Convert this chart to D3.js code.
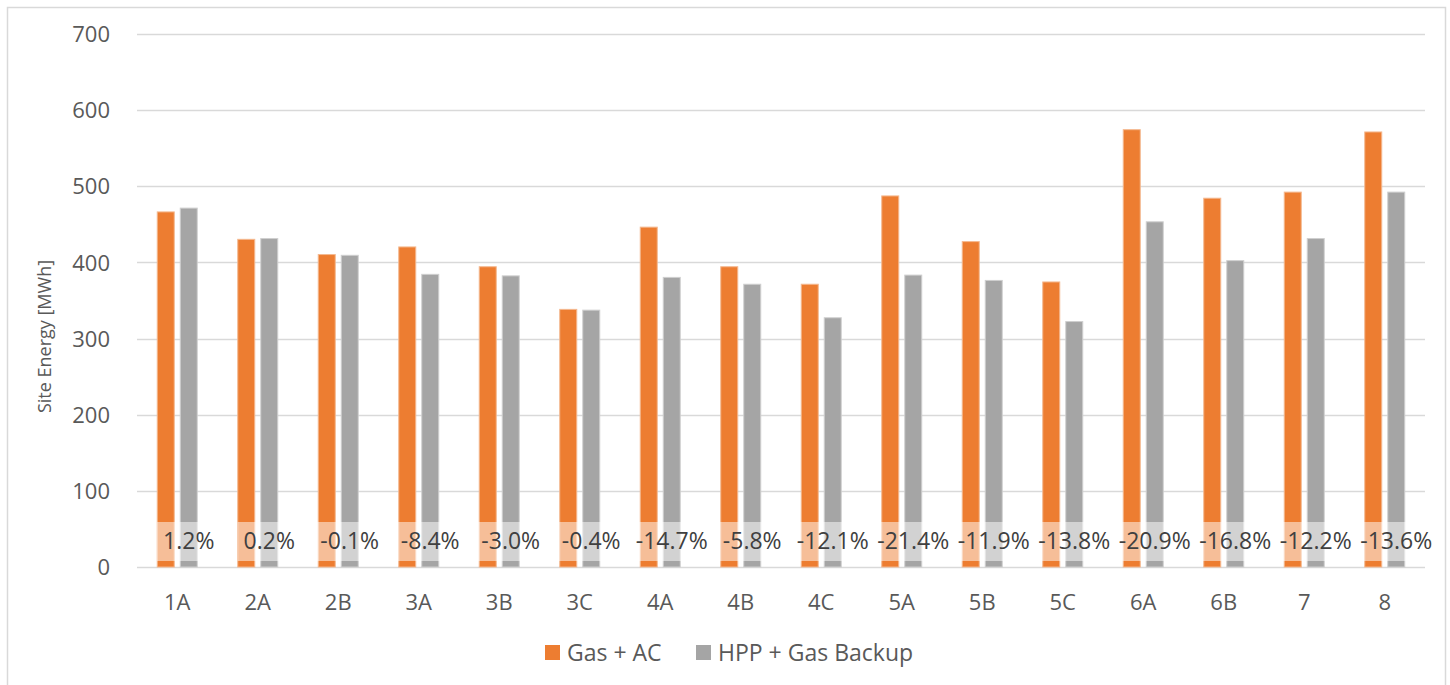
<!DOCTYPE html>
<html>
<head>
<meta charset="utf-8">
<script src="https://cdn.jsdelivr.net/npm/d3@7"></script>
<style>
  html, body { margin: 0; padding: 0; background: #fff; }
  svg { display: block; }
  text { font-family: "Open Sans", "Noto Sans", sans-serif; fill: #595959; }
</style>
</head>
<body>
<svg id="chart" width="1450" height="685"></svg>
<script>
const categories = ["1A","2A","2B","3A","3B","3C","4A","4B","4C","5A","5B","5C","6A","6B","7","8"];
const gasAC      = [467, 431, 411, 421, 395, 339, 447, 395, 372, 488, 428, 375, 575, 485, 493, 572];
const hppGas     = [472, 432, 410, 385, 383, 338, 381, 372, 328, 384, 377, 323, 454, 403, 432, 493];
const pctLabels  = ["1.2%","0.2%","-0.1%","-8.4%","-3.0%","-0.4%","-14.7%","-5.8%","-12.1%","-21.4%","-11.9%","-13.8%","-20.9%","-16.8%","-12.2%","-13.6%"];
const yTicks     = [0, 100, 200, 300, 400, 500, 600, 700];
const seriesNames = ["Gas + AC", "HPP + Gas Backup"];
const seriesColors = ["#ED7D31", "#A5A5A5"];
const seriesStroke = ["#F4B88F", "#CFCFCF"];

const svg = d3.select("#chart");

// chart border
svg.append("rect").attr("x", 7.5).attr("y", 7.5).attr("width", 1438).attr("height", 690)
  .attr("fill", "#fff").attr("stroke", "#D9D9D9").attr("stroke-width", 1.5);

const plot = { left: 137, right: 1425, top: 34, bottom: 567 };

const x = d3.scaleBand().domain(categories).range([plot.left, plot.right]).padding(0);
const y = d3.scaleLinear().domain([0, 700]).range([plot.bottom, plot.top]);

// gridlines
svg.append("g").selectAll("line").data(yTicks).join("line")
  .attr("x1", plot.left).attr("x2", plot.right)
  .attr("y1", d => Math.round(y(d)) + 0.5).attr("y2", d => Math.round(y(d)) + 0.5)
  .attr("stroke", "#D9D9D9").attr("stroke-width", 1.5);

// y axis labels
const yAxis = d3.axisLeft(y).tickValues(yTicks).tickSize(0).tickPadding(0);
const yg = svg.append("g").attr("transform", `translate(110,0)`).call(yAxis);
yg.select(".domain").remove();
yg.selectAll("text").style("font-size", "22px").style("fill", "#595959")
  .style("font-family", '"Open Sans", sans-serif').attr("dy", "0.35em");

// x axis labels
const xAxis = d3.axisBottom(x).tickSize(0).tickPadding(0);
const xg = svg.append("g").attr("transform", `translate(0,${plot.bottom})`).call(xAxis);
xg.select(".domain").remove();
xg.selectAll("text").style("font-size", "22px").style("fill", "#595959")
  .style("font-family", '"Open Sans", sans-serif').attr("y", 35).attr("dy", "0.35em");

// bars
const barW = 18, gap = 5;
const offsets = [-(barW + gap / 2), gap / 2];
const seriesData = [gasAC, hppGas];
seriesData.forEach((vals, si) => {
  svg.append("g").selectAll("rect").data(vals).join("rect")
    .attr("x", (d, i) => x(categories[i]) + x.bandwidth() / 2 + offsets[si] + 0.5)
    .attr("width", barW - 1)
    .attr("y", d => y(d) + 0.5)
    .attr("height", d => plot.bottom - y(d) - 0.5)
    .attr("fill", seriesColors[si])
    .attr("stroke", seriesStroke[si]).attr("stroke-width", 1);
});

// data labels with semi-transparent white background (on second series)
const labelY = 541;
const lg = svg.append("g");
pctLabels.forEach((lab, i) => {
  const cx = x(categories[i]) + x.bandwidth() / 2 + offsets[1] + barW / 2;
  const t = lg.append("text").attr("x", cx).attr("y", labelY).attr("dy", "0.35em")
    .attr("text-anchor", "middle").style("font-size", "23px").style("fill", "#404040").text(lab);
  const bb = t.node().getBBox();
  lg.insert("rect", "text").attr("x", bb.x - 6).attr("width", bb.width + 12)
    .attr("y", 522).attr("height", 39).attr("fill", "#fff").attr("fill-opacity", 0.5);
});

// y axis title
svg.append("text").attr("transform", `translate(51,${(y(700) + y(0)) / 2 + 36}) rotate(-90)`)
  .attr("text-anchor", "middle").style("font-size", "18px").text("Site Energy [MWh]");

// legend
const legend = svg.append("g");
const legX = [545, 696];
seriesNames.forEach((name, i) => {
  legend.append("rect").attr("x", legX[i]).attr("y", 645).attr("width", 15).attr("height", 15)
    .attr("fill", seriesColors[i]);
  legend.append("text").attr("x", legX[i] + 22).attr("y", 653).attr("dy", "0.35em")
    .style("font-size", "23px").text(name);
});
</script>
</body>
</html>
